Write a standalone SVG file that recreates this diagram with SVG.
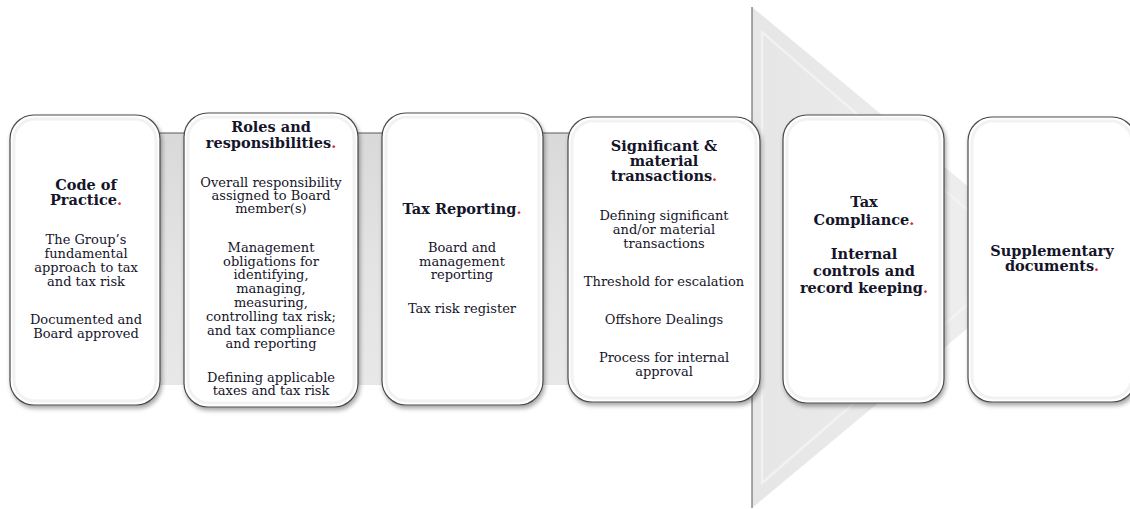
<svg xmlns="http://www.w3.org/2000/svg" width="1130" height="509" viewBox="0 0 1130 509">
<defs>
<linearGradient id="bandG" x1="0" y1="0" x2="0" y2="1">
<stop offset="0" stop-color="#d9d9d9"/>
<stop offset="0.5" stop-color="#e3e3e3"/>
<stop offset="1" stop-color="#e8e8e8"/>
</linearGradient>
<linearGradient id="triG" x1="0" y1="0" x2="1" y2="0">
<stop offset="0" stop-color="#e6e6e6"/>
<stop offset="1" stop-color="#f0f0f0"/>
</linearGradient>
<filter id="sh" x="-10%" y="-10%" width="125%" height="125%">
<feDropShadow dx="1.5" dy="3" stdDeviation="2" flood-color="#000" flood-opacity="0.35"/>
</filter>
</defs>
<style>
.box{fill:#ffffff;stroke:#4a4a4a;stroke-width:1.2;filter:url(#sh)}
.inner{fill:none;stroke:#f2f2f2;stroke-width:3}
text{font-family:"DejaVu Serif","Liberation Serif",serif;fill:#15152a;text-anchor:middle}
.h{font-size:14.5px;font-weight:bold}
.b{font-size:13px}
.r{fill:#e0202a}
</style>
<rect width="1130" height="509" fill="#ffffff"/>
<g id="background">
<rect x="20" y="133" width="733" height="252" fill="url(#bandG)"/>
<line x1="20" y1="133" x2="753" y2="133" stroke="#5a5a5a" stroke-width="1.2"/>
<polygon points="752,7 1053,257 752,508" fill="url(#triG)"/>
<polygon points="762,32 1022,257 762,483" fill="none" stroke="#f4f4f4" stroke-width="2.5" stroke-opacity="0.8"/>
<line x1="752" y1="7" x2="752" y2="508" stroke="#707070" stroke-width="1.2"/>
</g>
<g id="node1">
<rect class="box" x="10" y="115" width="150" height="290" rx="24"/>
<rect class="inner" x="14" y="119" width="142" height="282" rx="21"/>
<text class="h" x="86" y="190">Code of</text>
<text class="h" x="86" y="205">Practice<tspan class="r">.</tspan></text>
<text class="b" x="86" y="244">The Group’s</text>
<text class="b" x="86" y="258">fundamental</text>
<text class="b" x="86" y="272">approach to tax</text>
<text class="b" x="86" y="286">and tax risk</text>
<text class="b" x="86" y="324">Documented and</text>
<text class="b" x="86" y="338">Board approved</text>
</g>
<g id="node2">
<rect class="box" x="184" y="113" width="174" height="294" rx="24"/>
<rect class="inner" x="188" y="117" width="166" height="286" rx="21"/>
<text class="h" x="271" y="132">Roles and</text>
<text class="h" x="271" y="148">responsibilities<tspan class="r">.</tspan></text>
<text class="b" x="271" y="187">Overall responsibility</text>
<text class="b" x="271" y="200">assigned to Board</text>
<text class="b" x="271" y="213">member(s)</text>
<text class="b" x="271" y="252">Management</text>
<text class="b" x="271" y="266">obligations for</text>
<text class="b" x="271" y="279">identifying,</text>
<text class="b" x="271" y="293">managing,</text>
<text class="b" x="271" y="307">measuring,</text>
<text class="b" x="271" y="321">controlling tax risk;</text>
<text class="b" x="271" y="335">and tax compliance</text>
<text class="b" x="271" y="348">and reporting</text>
<text class="b" x="271" y="382">Defining applicable</text>
<text class="b" x="271" y="395">taxes and tax risk</text>
</g>
<g id="node3">
<rect class="box" x="382" y="113" width="161" height="292" rx="24"/>
<rect class="inner" x="386" y="117" width="153" height="284" rx="21"/>
<text class="h" x="462" y="214">Tax Reporting<tspan class="r">.</tspan></text>
<text class="b" x="462" y="252">Board and</text>
<text class="b" x="462" y="266">management</text>
<text class="b" x="462" y="279">reporting</text>
<text class="b" x="462" y="313">Tax risk register</text>
</g>
<g id="node4">
<rect class="box" x="568" y="117" width="192" height="285" rx="24"/>
<rect class="inner" x="572" y="121" width="184" height="277" rx="21"/>
<text class="h" x="664" y="151">Significant &amp;</text>
<text class="h" x="664" y="166">material</text>
<text class="h" x="664" y="181">transactions<tspan class="r">.</tspan></text>
<text class="b" x="664" y="220">Defining significant</text>
<text class="b" x="664" y="234">and/or material</text>
<text class="b" x="664" y="248">transactions</text>
<text class="b" x="664" y="286">Threshold for escalation</text>
<text class="b" x="664" y="324">Offshore Dealings</text>
<text class="b" x="664" y="362">Process for internal</text>
<text class="b" x="664" y="376">approval</text>
</g>
<g id="node5">
<rect class="box" x="783" y="115" width="161" height="288" rx="24"/>
<rect class="inner" x="787" y="119" width="153" height="280" rx="21"/>
<text class="h" x="864" y="207">Tax</text>
<text class="h" x="864" y="225">Compliance<tspan class="r">.</tspan></text>
<text class="h" x="864" y="259">Internal</text>
<text class="h" x="864" y="276">controls and</text>
<text class="h" x="864" y="293">record keeping<tspan class="r">.</tspan></text>
</g>
<g id="node6">
<rect class="box" x="968" y="117" width="168" height="285" rx="24"/>
<rect class="inner" x="972" y="121" width="160" height="277" rx="21"/>
<text class="h" x="1052" y="256">Supplementary</text>
<text class="h" x="1052" y="271">documents<tspan class="r">.</tspan></text>
</g>
<g id="connectors"></g>
</svg>
